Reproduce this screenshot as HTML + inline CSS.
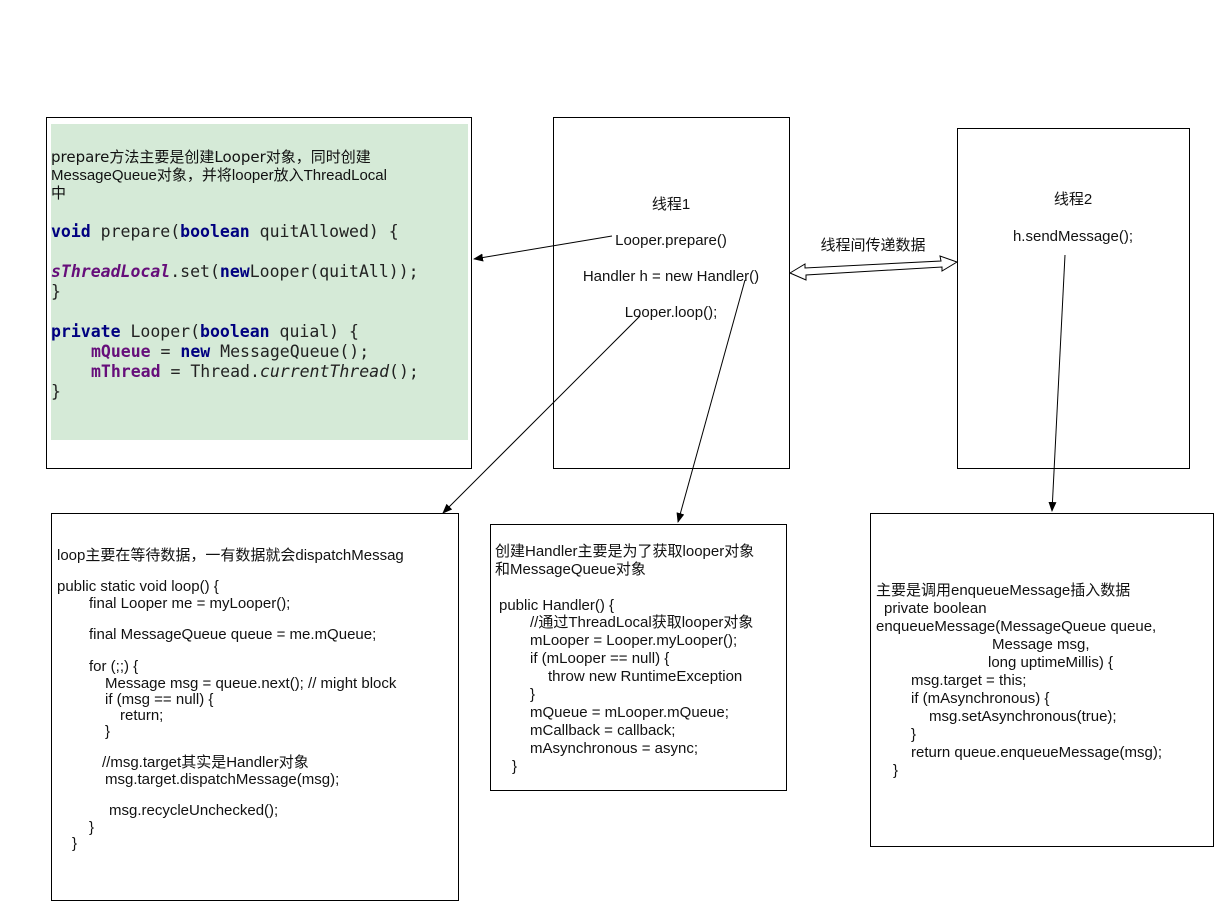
<!DOCTYPE html>
<html><head><meta charset="utf-8"><style>
html,body{margin:0;padding:0;background:#fff;}
svg{display:block;}
.s{font-family:"Liberation Sans","Noto Sans CJK SC",sans-serif;font-size:15px;fill:#111;}
.m{font-family:"DejaVu Sans Mono","Liberation Mono",monospace;font-size:16.5px;fill:#222;}
.k{fill:#000080;font-weight:bold;}
.p{fill:#660E7A;font-weight:bold;}
</style></head><body>
<svg width="1219" height="904" viewBox="0 0 1219 904" xmlns="http://www.w3.org/2000/svg">
<defs><marker id="a" markerWidth="10" markerHeight="8" refX="9" refY="4" orient="auto" markerUnits="userSpaceOnUse"><path d="M0,0 L10,4 L0,8 z" fill="#000"/></marker></defs>
<rect x="46.5" y="117.5" width="425" height="351" fill="#fff" stroke="#000"/>
<rect x="51" y="124" width="417" height="316" fill="#d5ead7"/>
<rect x="553.5" y="117.5" width="236" height="351" fill="#fff" stroke="#000"/>
<rect x="957.5" y="128.5" width="232" height="340" fill="#fff" stroke="#000"/>
<rect x="51.5" y="513.5" width="407" height="387" fill="#fff" stroke="#000"/>
<rect x="490.5" y="524.5" width="296" height="266" fill="#fff" stroke="#000"/>
<rect x="870.5" y="513.5" width="343" height="333" fill="#fff" stroke="#000"/>

<g class="s">
<text x="51" y="162" style="font-family:'DejaVu Sans','Noto Sans CJK SC',sans-serif;font-size:15px">prepare方法主要是创建Looper对象，同时创建</text>
<text x="51" y="180">MessageQueue对象，并将looper放入ThreadLocal</text>
<text x="51" y="198">中</text>
</g>
<g class="m">
<text x="51" y="237"><tspan class="k">void</tspan> prepare(<tspan class="k">boolean</tspan> quitAllowed) {</text>
<text x="51" y="277"><tspan class="p" font-style="italic">sThreadLocal</tspan>.set(<tspan class="k">new</tspan>Looper(quitAll));</text>
<text x="51" y="297">}</text>
<text x="51" y="337"><tspan class="k">private</tspan> Looper(<tspan class="k">boolean</tspan> quial) {</text>
<text x="91" y="357"><tspan class="p">mQueue</tspan> = <tspan class="k">new</tspan> MessageQueue();</text>
<text x="91" y="377"><tspan class="p">mThread</tspan> = Thread.<tspan font-style="italic">currentThread</tspan>();</text>
<text x="51" y="397">}</text>
</g>

<g class="s" text-anchor="middle">
<text x="671" y="209">线程1</text>
<text x="671" y="245">Looper.prepare()</text>
<text x="671" y="281">Handler h = new Handler()</text>
<text x="671" y="317">Looper.loop();</text>
<text x="1073" y="204">线程2</text>
<text x="1073" y="241">h.sendMessage();</text>
<text x="873" y="250">线程间传递数据</text>
</g>

<g class="s">
<text x="57" y="560">loop主要在等待数据，一有数据就会dispatchMessag</text>
<text x="57" y="591">public static void loop() {</text>
<text x="89" y="608">final Looper me = myLooper();</text>
<text x="89" y="639">final MessageQueue queue = me.mQueue;</text>
<text x="89" y="671">for (;;) {</text>
<text x="105" y="688">Message msg = queue.next(); // might block</text>
<text x="105" y="704">if (msg == null) {</text>
<text x="120" y="720">return;</text>
<text x="105" y="736">}</text>
<text x="102" y="767">//msg.target其实是Handler对象</text>
<text x="105" y="784">msg.target.dispatchMessage(msg);</text>
<text x="109" y="815">msg.recycleUnchecked();</text>
<text x="89" y="832">}</text>
<text x="72" y="848">}</text>

<text x="495" y="556">创建Handler主要是为了获取looper对象</text>
<text x="495" y="574">和MessageQueue对象</text>
<text x="499" y="610">public Handler() {</text>
<text x="530" y="627">//通过ThreadLocal获取looper对象</text>
<text x="530" y="645">mLooper = Looper.myLooper();</text>
<text x="530" y="663">if (mLooper == null) {</text>
<text x="548" y="681">throw new RuntimeException</text>
<text x="530" y="699">}</text>
<text x="530" y="717">mQueue = mLooper.mQueue;</text>
<text x="530" y="735">mCallback = callback;</text>
<text x="530" y="753">mAsynchronous = async;</text>
<text x="512" y="771">}</text>

<text x="876" y="595">主要是调用enqueueMessage插入数据</text>
<text x="884" y="613">private boolean</text>
<text x="876" y="631">enqueueMessage(MessageQueue queue,</text>
<text x="992" y="649">Message msg,</text>
<text x="988" y="667">long uptimeMillis) {</text>
<text x="911" y="685">msg.target = this;</text>
<text x="911" y="703">if (mAsynchronous) {</text>
<text x="929" y="721">msg.setAsynchronous(true);</text>
<text x="911" y="739">}</text>
<text x="911" y="757">return queue.enqueueMessage(msg);</text>
<text x="893" y="775">}</text>
</g>

<g stroke="#000" stroke-width="1" fill="none">
<line x1="612" y1="236" x2="474" y2="259" marker-end="url(#a)"/>
<line x1="640" y1="316" x2="443" y2="513" marker-end="url(#a)"/>
<line x1="745" y1="280" x2="678" y2="522" marker-end="url(#a)"/>
<line x1="1065" y1="255" x2="1052" y2="511" marker-end="url(#a)"/>
<polygon points="790,273 805,264 805,268 941,261 940,256 957,262 942,271 942,267 806,275 806,280" fill="#fff"/>
</g>
</svg>
</body></html>
